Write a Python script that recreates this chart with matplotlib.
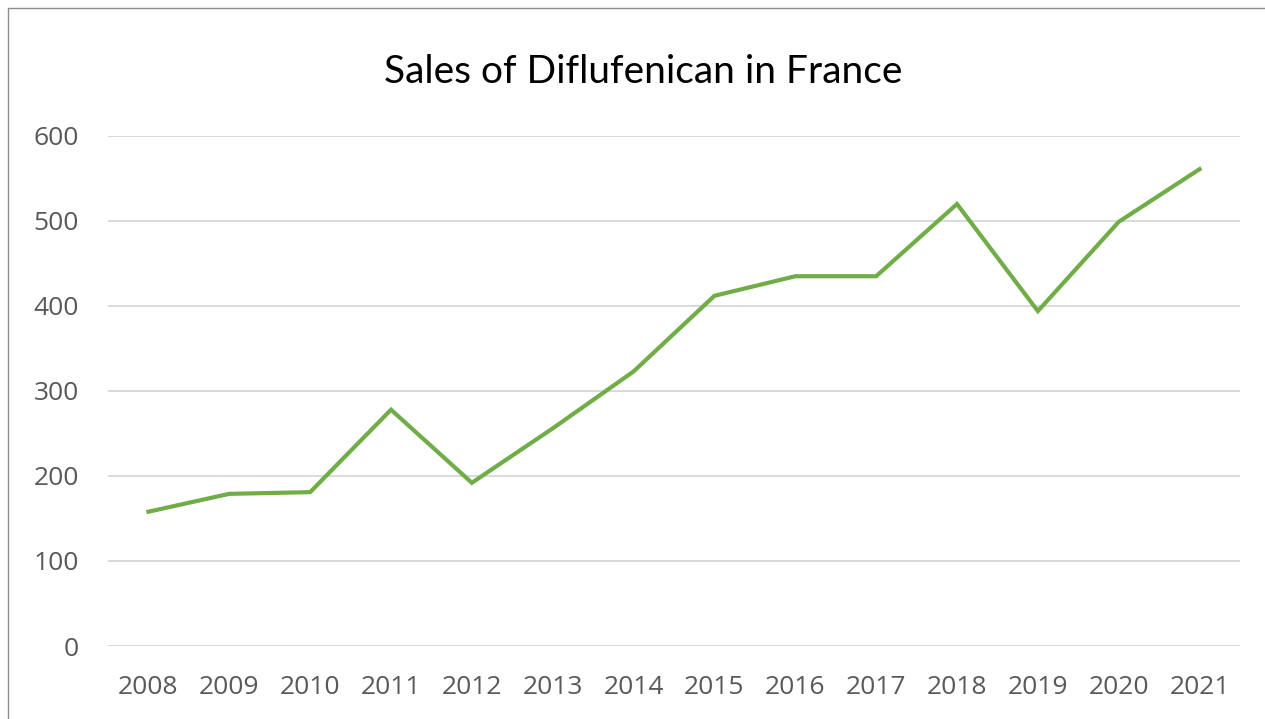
import matplotlib.pyplot as plt
from matplotlib.patches import Rectangle

years = ['2008', '2009', '2010', '2011', '2012', '2013', '2014',
         '2015', '2016', '2017', '2018', '2019', '2020', '2021']
sales = [158, 179, 181, 278, 192, 256, 323, 412, 435, 435, 520, 394, 499, 561]
yticks = [0, 100, 200, 300, 400, 500, 600]

W, H = 1265, 719
fig = plt.figure(figsize=(W / 100, H / 100), dpi=100)

# frame around the chart (only left/top visible in the original)
fig.patches.append(Rectangle((8 / W, -0.1), 1.2, (H - 8) / H + 0.1,
                             transform=fig.transFigure, fill=False,
                             edgecolor='#8c8c8c', linewidth=1))

ax = fig.add_axes([108 / W, 1 - 646 / H, (1240 - 108) / W, (646 - 136) / H])
x = list(range(len(years)))
ax.plot(x, sales, color='#70AD47', linewidth=3.0, solid_joinstyle='miter')

ax.set_xlim(-0.5, len(years) - 0.5)
ax.set_ylim(0, 600)
ax.set_xticks(x)
ax.set_xticklabels(years)
ax.set_yticks(yticks)
ax.grid(axis='y', color='#d9d9d9', linewidth=1.4)
ax.set_axisbelow(True)
for s in ax.spines.values():
    s.set_visible(False)
ax.tick_params(length=0, labelsize=19, labelcolor='#595959')
ax.tick_params(axis='x', pad=21)
ax.tick_params(axis='y', pad=21)
for lab in ax.get_xticklabels() + ax.get_yticklabels():
    lab.set_fontfamily('Open Sans')

fig.text(643 / W, 1 - 72 / H, 'Sales of Diflufenican in France',
         ha='center', va='center', fontsize=28, family='Lato', color='#000000')

fig.savefig('out.png', dpi=100)
